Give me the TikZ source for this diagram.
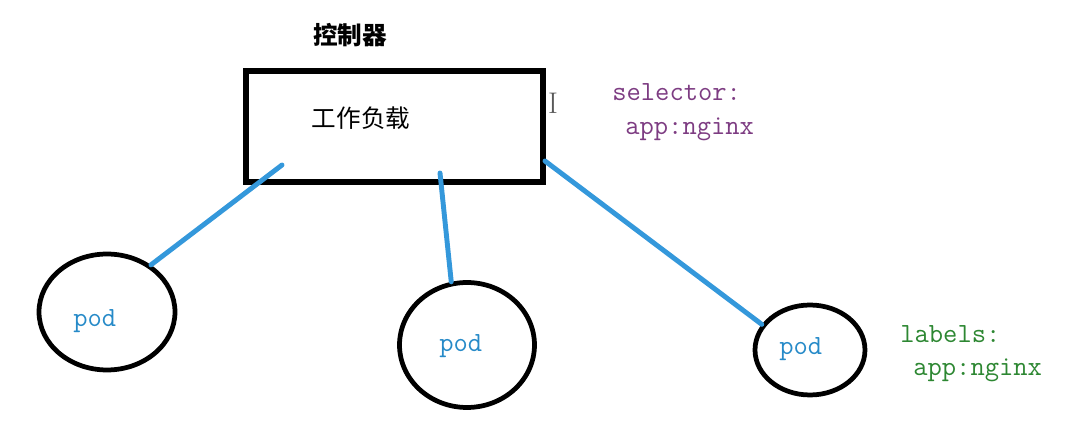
\documentclass[tikz,border=0pt]{standalone}
\usepackage{fontspec}
\newfontfamily\cjk{Noto Sans CJK SC}
\usetikzlibrary{
  calc,
  positioning,
  shapes,
}
\definecolor{linkblue}{RGB}{52, 152, 219}
\definecolor{podblue}{RGB}{38, 138, 200}
\definecolor{selpurple}{RGB}{125, 60, 130}
\definecolor{labgreen}{RGB}{45, 135, 50}
\tikzstyle{link} = [
  line width=2.8pt,
  linkblue,
  line cap=round,
]

\begin{document}
\begin{tikzpicture}[x=0.02cm, y=-0.02cm,
    workload/.style={draw, line width=3.4pt, minimum width=5.94cm,
                     minimum height=2.22cm, inner sep=0pt},
    pod/.style={draw, ellipse, line width=2.7pt, inner sep=0pt},
    code/.style={font=\ttfamily\fontsize{15.8}{18}\selectfont,
                 anchor=base west, inner sep=0pt}]
      \useasboundingbox (0,0) rectangle (1086,438);

      \node [workload] (load) at (394.5,126.5) {};
      \node [font=\cjk\bfseries\fontsize{14}{16}\selectfont] (ctrl) at (350,35)
            {控制器};
      \node [font=\cjk\fontsize{14}{16}\selectfont] (loadname) at (361,118)
            {工作负载};
      \node [font=\fontsize{17}{17}\selectfont, text=black!65, inner sep=0pt]
            (cursor) at (553,103) {I};

      \node [pod, minimum width=2.72cm, minimum height=2.32cm] (pod1) at (107,312) {};
      \node [pod, minimum width=2.7cm, minimum height=2.5cm] (pod2) at (467,345) {};
      \node [pod, minimum width=2.2cm, minimum height=1.8cm] (pod3) at (810,350) {};

      \node [code, podblue] (podname1) at (73,327) {pod};
      \node [code, podblue] (podname2) at (439,352) {pod};
      \node [code, podblue] (podname3) at (779,355) {pod};

      \node [code, selpurple] (selector) at (612,101) {selector:};
      \node [code, selpurple] (selapp) at (625,135) {app:nginx};
      \node [code, labgreen] (labels) at (900,343) {labels:};
      \node [code, labgreen] (labapp) at (913,376) {app:nginx};

      \coordinate (from1) at (282,165);
      \coordinate (from2) at (440,173);
      \coordinate (from3) at (545,161);

      \draw [link] (from1) -- (pod1.47);
      \draw [link] (from2) -- (pod2.104);
      \draw [link] (from3) -- (pod3.152);
    \end{tikzpicture}
\end{document}
